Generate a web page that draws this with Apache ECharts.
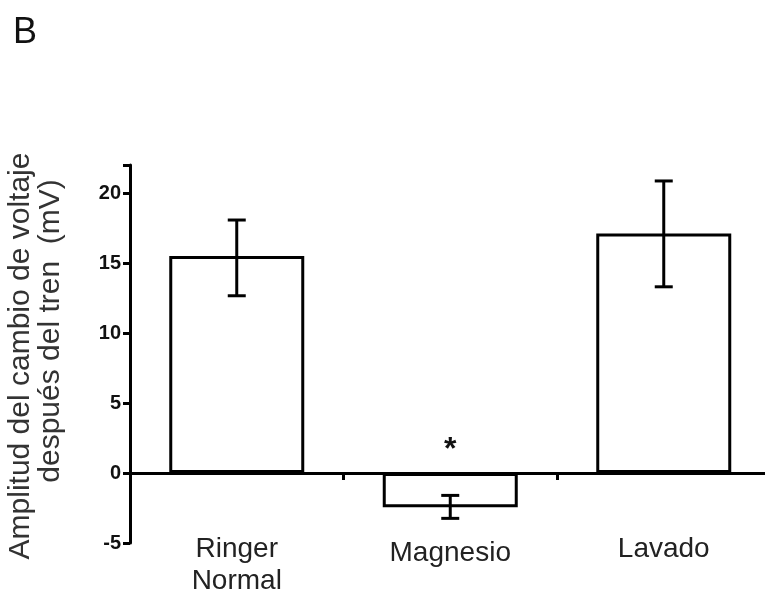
<!DOCTYPE html>
<html>
<head>
<meta charset="utf-8">
<script src="https://cdn.jsdelivr.net/npm/echarts@6/dist/echarts.min.js"></script>
<style>
html,body{margin:0;padding:0;background:#fff;}
#chart{width:765px;height:597px;}
</style>
</head>
<body>
<div id="chart"></div>
<script>
var categories = ['Ringer\nNormal', 'Magnesio', 'Lavado'];
var means = [15.5, -2.45, 17.1];
var errLow = [12.66, -3.24, 13.3];
var errHigh = [18.07, -1.6, 20.86];
var marks = ['', '*', ''];
var yTicks = [-5, 0, 5, 10, 15, 20];
var yTitleLines = ['Amplitud del cambio de voltaje', 'después del tren  (mV)'];

var chart = echarts.init(document.getElementById('chart'));
var font = '"Liberation Sans", Arial, Helvetica, sans-serif';

var labelData = categories.map(function (c) {
  return c === 'Magnesio' ? { value: c, textStyle: { lineHeight: 40 } } : c;
});

chart.setOption({
  animation: false,
  backgroundColor: '#fff',
  graphic: [{
    type: 'text', left: 13, top: 15,
    style: { text: 'B', font: '36px ' + font, fill: '#111' }
  }, {
    type: 'text', x: 21, y: 356, rotation: Math.PI / 2,
    style: { text: yTitleLines[0], font: '30px ' + font, fill: '#333', align: 'center', verticalAlign: 'middle' }
  }, {
    type: 'text', x: 51, y: 331, rotation: Math.PI / 2,
    style: { text: yTitleLines[1], font: '30px ' + font, fill: '#333', align: 'center', verticalAlign: 'middle' }
  }],
  grid: { left: 130, right: -5.5, top: 165, bottom: 54, containLabel: false, outerBoundsMode: 'none' },
  xAxis: [{
    type: 'category',
    data: categories,
    axisLine: { onZero: true, lineStyle: { color: '#000', width: 3 } },
    axisTick: { show: true, length: 7, inside: false, lineStyle: { color: '#000', width: 3 } },
    axisLabel: { show: false },
    splitLine: { show: false }
  }, {
    type: 'category',
    position: 'bottom',
    data: labelData,
    axisLine: { show: false, onZero: false },
    axisTick: { show: false },
    axisLabel: { margin: -10, color: '#222', fontFamily: font, fontSize: 28, lineHeight: 32, interval: 0 },
    splitLine: { show: false }
  }],
  yAxis: {
    type: 'value',
    min: -5, max: 22, interval: 5,
    axisLine: { show: true, lineStyle: { color: '#000', width: 3 } },
    axisTick: { show: true, length: 7, lineStyle: { color: '#000', width: 3 } },
    axisLabel: {
      margin: 9, color: '#111', fontFamily: font, fontSize: 20, fontWeight: 'bold',
      formatter: function (v) { return yTicks.indexOf(v) >= 0 ? String(v) : ''; }
    },
    splitLine: { show: false }
  },
  series: [{
    type: 'bar',
    data: means,
    barWidth: 135,
    itemStyle: { color: '#fff', borderColor: '#000', borderWidth: 3 }
  }, {
    type: 'custom',
    data: categories.map(function (c, i) { return [i, errLow[i], errHigh[i]]; }),
    renderItem: function (params, api) {
      var x = api.value(0);
      var lo = api.coord([x, api.value(1)]);
      var hi = api.coord([x, api.value(2)]);
      var w = 9;
      var st = { stroke: '#000', lineWidth: 3 };
      return {
        type: 'group',
        children: [
          { type: 'line', shape: { x1: lo[0], y1: lo[1], x2: hi[0], y2: hi[1] }, style: st },
          { type: 'line', shape: { x1: lo[0] - w, y1: lo[1], x2: lo[0] + w, y2: lo[1] }, style: st },
          { type: 'line', shape: { x1: hi[0] - w, y1: hi[1], x2: hi[0] + w, y2: hi[1] }, style: st }
        ]
      };
    },
    z: 5
  }, {
    type: 'custom',
    data: categories.map(function (c, i) { return [i, 0]; }),
    renderItem: function (params, api) {
      var p = api.coord([api.value(0), 0]);
      return {
        type: 'text',
        style: {
          text: marks[params.dataIndex], x: p[0], y: p[1] - 23,
          align: 'center', verticalAlign: 'middle',
          font: 'bold 32px ' + font, fill: '#111'
        }
      };
    },
    z: 6
  }]
});
</script>
</body>
</html>
